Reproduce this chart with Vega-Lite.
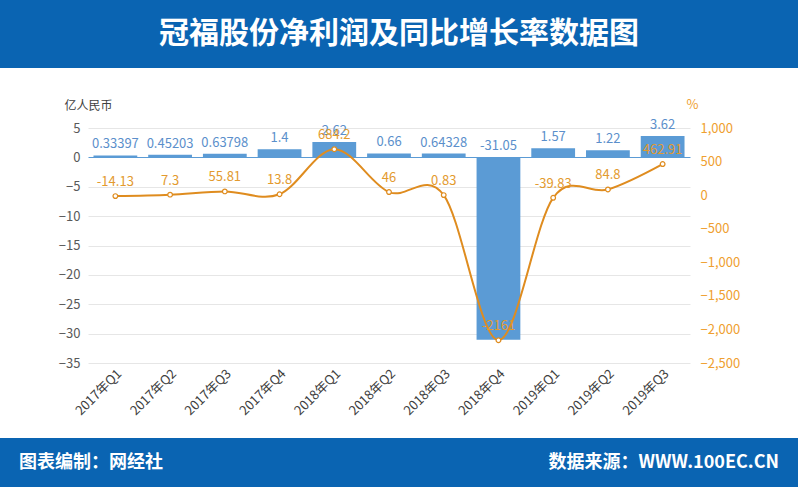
{
  "$schema": "https://vega.github.io/schema/vega-lite/v6.json",
  "background": "#0a64b2",
  "padding": 0,
  "spacing": 0,
  "bounds": "flush",
  "config": {"view": {"stroke": null}, "font": "Noto Sans CJK SC"},
  "vconcat": [
    {
      "width": 798,
      "height": 68,
      "data": {"values": [{"title": "冠福股份净利润及同比增长率数据图"}]},
      "mark": {"type": "text", "color": "white", "fontWeight": "bold", "fontSize": 30, "baseline": "middle", "align": "center"},
      "encoding": {"text": {"field": "title", "type": "nominal"}}
    },
    {
      "width": 798,
      "height": 370,
      "view": {"fill": "white", "stroke": null},
      "data": {"values": [
        {"quarter": "2017年Q1", "net": 0.33397, "growth": -14.13},
        {"quarter": "2017年Q2", "net": 0.45203, "growth": 7.3},
        {"quarter": "2017年Q3", "net": 0.63798, "growth": 55.81},
        {"quarter": "2017年Q4", "net": 1.4, "growth": 13.8},
        {"quarter": "2018年Q1", "net": 2.62, "growth": 684.2},
        {"quarter": "2018年Q2", "net": 0.66, "growth": 46},
        {"quarter": "2018年Q3", "net": 0.64328, "growth": 0.83},
        {"quarter": "2018年Q4", "net": -31.05, "growth": -2161},
        {"quarter": "2019年Q1", "net": 1.57, "growth": -39.83},
        {"quarter": "2019年Q2", "net": 1.22, "growth": 84.8},
        {"quarter": "2019年Q3", "net": 3.62, "growth": 462.91}
      ]},
      "encoding": {
        "x": {
          "field": "quarter", "type": "nominal", "sort": null,
          "scale": {"range": [88, 690], "paddingInner": 0.2, "paddingOuter": 0.1},
          "axis": {"title": null, "labelAngle": -45, "labelFontSize": 13, "labelColor": "#404040", "offset": -75, "domain": false, "ticks": false, "labelPadding": 4, "grid": false}
        }
      },
      "layer": [
        {
          "encoding": {
            "y": {
              "field": "net", "type": "quantitative",
              "scale": {"domain": [-35, 5], "range": [295, 60], "nice": false, "zero": false},
              "axis": {
                "orient": "left", "offset": -88, "values": [-35, -30, -25, -20, -15, -10, -5, 0, 5], "format": "d",
                "domain": false, "ticks": false, "labelPadding": 8, "labelColor": "#595959", "labelFontSize": 13,
                "grid": true, "gridColor": {"condition": {"test": "datum.value === 0", "value": "#5B9BD5"}, "value": "#E6E6E6"},
                "gridWidth": 1,
                "title": "亿人民币", "titleAngle": 0, "titleX": -24, "titleY": 37, "titleAlign": "left", "titleBaseline": "middle",
                "titleFontWeight": "normal", "titleFontSize": 12, "titleColor": "#404040"
              }
            }
          },
          "layer": [
            {"mark": {"type": "bar", "color": "#5B9BD5"}},
            {
              "transform": [{"filter": "datum.net > 0"}],
              "mark": {"type": "text", "color": "#5B8FCB", "fontSize": 13, "baseline": "middle", "dy": -11},
              "encoding": {"text": {"field": "net", "type": "nominal"}}
            },
            {
              "transform": [{"filter": "datum.net < 0"}],
              "mark": {"type": "text", "color": "#5B8FCB", "fontSize": 13, "baseline": "middle", "dy": -11},
              "encoding": {"text": {"field": "net", "type": "nominal"}, "y": {"datum": 0, "type": "quantitative"}}
            }
          ]
        },
        {
          "encoding": {
            "y": {
              "field": "growth", "type": "quantitative",
              "scale": {"domain": [-2500, 1000], "range": [295, 60], "nice": false, "zero": false},
              "axis": {
                "orient": "right", "offset": -108, "values": [-2500, -2000, -1500, -1000, -500, 0, 500, 1000], "format": ",d",
                "domain": false, "ticks": false, "labelPadding": 10, "labelColor": "#EFA030", "labelFontSize": 13, "grid": false,
                "title": "%", "titleAngle": 0, "titleX": 2, "titleY": 36, "titleAlign": "center", "titleBaseline": "middle",
                "titleFontWeight": "normal", "titleFontSize": 13, "titleColor": "#EFA030"
              }
            }
          },
          "layer": [
            {"mark": {"type": "line", "color": "#DF8C1F", "strokeWidth": 2, "interpolate": "cardinal"}},
            {"mark": {"type": "point", "filled": true, "fill": "white", "stroke": "#DF8C1F", "strokeWidth": 1.2, "size": 22, "opacity": 1}},
            {
              "mark": {"type": "text", "color": "#E39A2E", "fontSize": 13, "baseline": "middle", "dy": -14},
              "encoding": {"text": {"field": "growth", "type": "nominal"}}
            }
          ]
        }
      ],
      "resolve": {"scale": {"y": "independent"}, "axis": {"y": "independent"}}
    },
    {
      "width": 798,
      "height": 49,
      "data": {"values": [{"left": "图表编制：网经社", "right": "数据来源：WWW.100EC.CN"}]},
      "layer": [
        {
          "mark": {"type": "text", "align": "left", "dx": 19, "color": "white", "fontWeight": "bold", "fontSize": 18, "baseline": "middle"},
          "encoding": {"text": {"field": "left", "type": "nominal"}, "x": {"value": 0}}
        },
        {
          "mark": {"type": "text", "align": "right", "dx": -19, "color": "white", "fontWeight": "bold", "fontSize": 18, "baseline": "middle"},
          "encoding": {"text": {"field": "right", "type": "nominal"}, "x": {"value": "width"}}
        }
      ]
    }
  ]
}
